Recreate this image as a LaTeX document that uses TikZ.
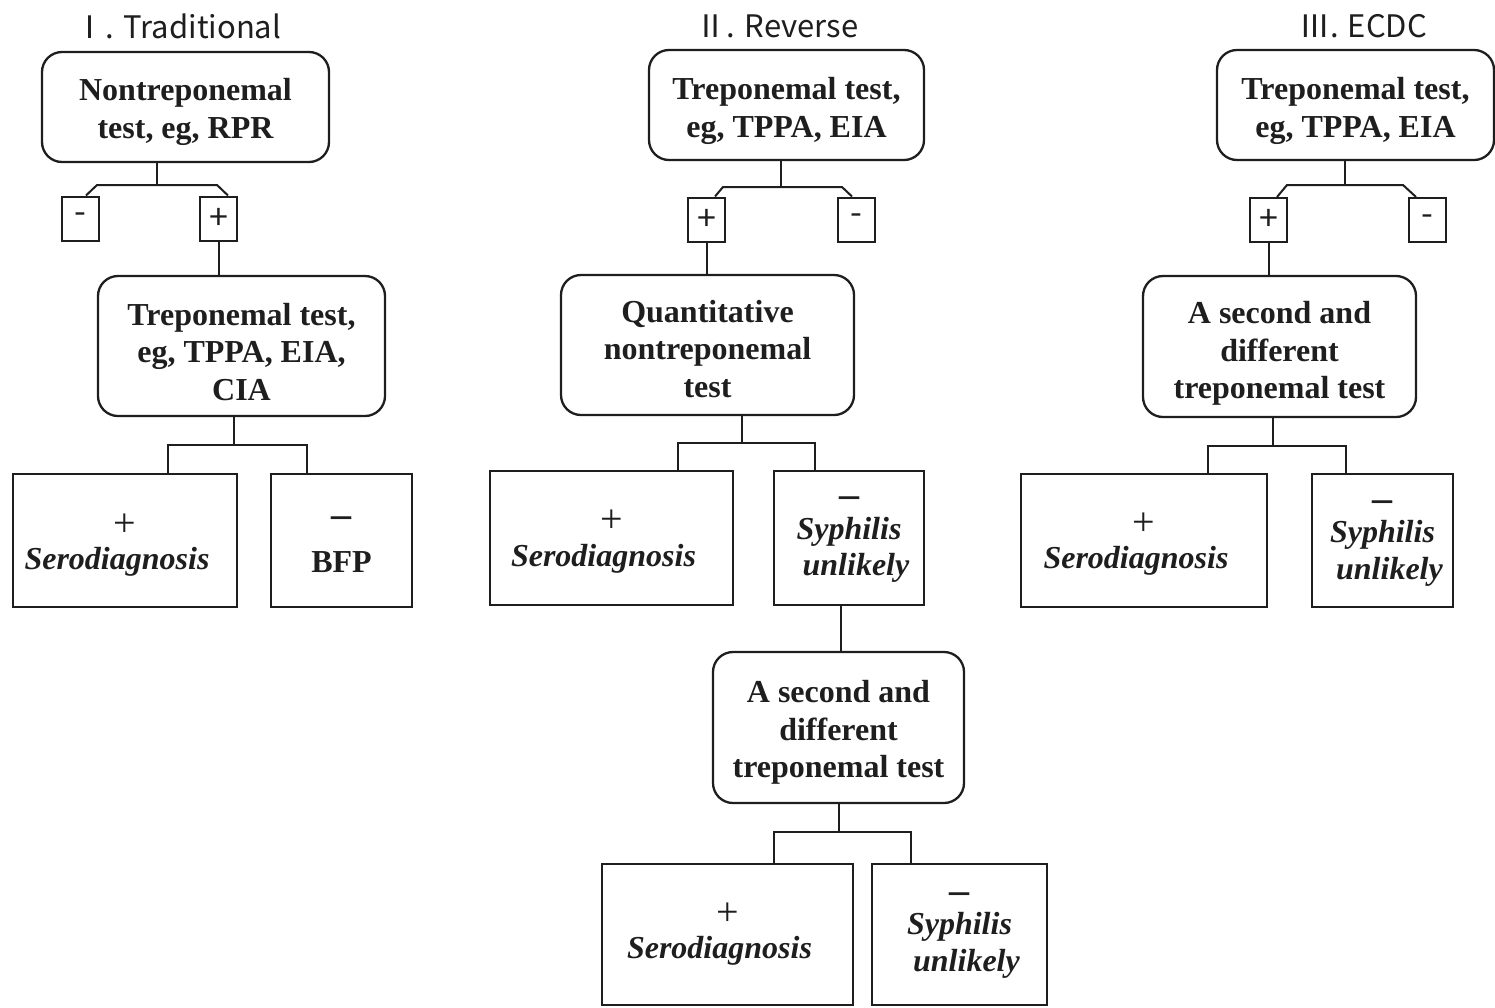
\documentclass[tikz,border=0pt]{standalone}
\usepackage{fontspec}
\setmainfont{Liberation Serif}
\newfontfamily\cjk{Noto Sans CJK SC}
\usetikzlibrary{calc}
\definecolor{ink}{RGB}{30,30,30}
\newcommand{\blk}[2][-5pt]{\raisebox{#1}[\height][\depth]{\begin{tabular}{@{}c@{}}#2\end{tabular}}}
\newcommand{\pl}{{\mdseries\fontsize{40}{37.5}\selectfont +}}
\newcommand{\mn}{{\fontsize{40}{37.5}\selectfont –}}
\newcommand{\sero}{\hspace*{-16pt}\textit{Serodiagnosis}}
\newcommand{\syph}{\textit{Syphilis}\\[-1pt]\hspace*{14pt}\textit{unlikely}}
\begin{document}
\begin{tikzpicture}[x=1pt,y=-1pt,
  txt/.style={text=ink, font=\bfseries\fontsize{32}{37.5}\selectfont, inner sep=0pt},
  rbox/.style={txt, draw=ink, line width=2.3pt, rounded corners=20pt},
  sbox/.style={txt, draw=ink, line width=2.3pt},
  sign/.style={draw=ink, text=ink, line width=2pt, minimum width=37pt, minimum height=44pt, inner sep=0pt, font=\cjk\fontsize{34}{34}\selectfont},
  conn/.style={draw=ink, line width=2pt},
  ttl/.style={text=ink, font=\cjk\fontsize{31}{34}\selectfont, inner sep=0pt}
]
\useasboundingbox (0,0) rectangle (1495,1007);

% ---------- Column I ----------
\node[ttl] (ta) at (178,26) {Ⅰ. Traditional};
\node[rbox, minimum width=287pt, minimum height=110pt] (a1) at (185.5,107) {\blk{Nontreponemal\\test, eg, RPR}};
\node[sign] (am) at (80.5,218.5) {-};
\node[sign] (ap) at (218.5,218.5) {+};
\node[rbox, minimum width=287pt, minimum height=140pt] (a2) at (241.5,346) {\blk[-9pt]{Treponemal test,\\eg, TPPA, EIA,\\CIA}};
\node[sbox, minimum width=224pt, minimum height=133pt] (a3) at (125,540.5) {\blk{\pl\\[-4pt]\sero}};
\node[sbox, minimum width=141pt, minimum height=133pt] (a4) at (341.5,540.5) {\blk[-2pt]{\mn\\[8pt]BFP}};

\coordinate (aj) at (157,185);
\coordinate (al) at (97,185);
\coordinate (ar) at (217,185);
\draw[conn, line width=1.5pt] (a1.south -| aj) -- (aj);
\draw[conn] ($(am.north)+(5.5,0)$) -- (al) -- (ar) -- ($(ap.north)+(9.5,0)$);
\draw[conn] (ap.south) -- (ap.south |- a2.north);
\coordinate (ab) at (234,445);
\coordinate (abl) at (168,445);
\coordinate (abr) at (307,445);
\draw[conn, line width=1.5pt] (a2.south -| ab) -- (ab);
\draw[conn] (a3.north -| abl) -- (abl) -- (abr) -- (a4.north -| abr);

% ---------- Column II ----------
\node[ttl] (tb) at (777,26) {Ⅱ. Reverse};
\node[rbox, minimum width=275pt, minimum height=110pt] (b1) at (786.5,105) {\blk[-6pt]{Treponemal test,\\eg, TPPA, EIA}};
\node[sign] (bp) at (706.5,219.5) {+};
\node[sign] (bm) at (856.5,219.5) {-};
\node[rbox, minimum width=293pt, minimum height=140pt] (b2) at (707.5,345) {\blk[-7pt]{Quantitative\\nontreponemal\\test}};
\node[sbox, minimum width=243pt, minimum height=134pt] (b3) at (611.5,538) {\blk[-4pt]{\pl\\[-4pt]\sero}};
\node[sbox, minimum width=150pt, minimum height=134pt] (b4) at (849,538) {\blk[4pt]{\mn\\[-6pt]\syph}};
\node[rbox, minimum width=251pt, minimum height=151pt] (b5) at (838.5,727.5) {\blk{A second and\\different\\treponemal test}};
\node[sbox, minimum width=251pt, minimum height=141pt] (b6) at (727.5,934.5) {\blk[0pt]{\pl\\[-4pt]\sero}};
\node[sbox, minimum width=175pt, minimum height=141pt] (b7) at (959.5,934.5) {\blk[5pt]{\mn\\[-6pt]\syph}};

\coordinate (bj) at (781,187);
\coordinate (bl) at (723,187);
\coordinate (br) at (842,187);
\draw[conn] (b1.south -| bj) -- (bj);
\draw[conn] ($(bp.north)+(8.5,0)$) -- (bl) -- (br) -- ($(bm.north)+(-4.5,0)$);
\draw[conn] (bp.south) -- (bp.south |- b2.north);
\coordinate (bb) at (742,443);
\coordinate (bbl) at (678,443);
\coordinate (bbr) at (815,443);
\draw[conn] (b2.south -| bb) -- (bb);
\draw[conn] (b3.north -| bbl) -- (bbl) -- (bbr) -- (b4.north -| bbr);
\coordinate (bd) at (841,620);
\draw[conn] (b4.south -| bd) -- (b5.north -| bd);
\coordinate (bc) at (839,832);
\coordinate (bcl) at (774,832);
\coordinate (bcr) at (911,832);
\draw[conn] (b5.south -| bc) -- (bc);
\draw[conn] (b6.north -| bcl) -- (bcl) -- (bcr) -- (b7.north -| bcr);

% ---------- Column III ----------
\node[ttl] (tc) at (1363,26) {Ⅲ. ECDC};
\node[rbox, minimum width=277pt, minimum height=110pt] (c1) at (1355.5,105) {\blk[-6pt]{Treponemal test,\\eg, TPPA, EIA}};
\node[sign] (cp) at (1268.5,220) {+};
\node[sign] (cm) at (1427,220) {-};
\node[rbox, minimum width=273pt, minimum height=141pt] (c2) at (1279.5,346.5) {\blk[-7pt]{A second and\\different\\treponemal test}};
\node[sbox, minimum width=246pt, minimum height=133pt] (c3) at (1144,540.5) {\blk[-4pt]{\pl\\[-4pt]\sero}};
\node[sbox, minimum width=141pt, minimum height=133pt] (c4) at (1382.5,540.5) {\blk[3pt]{\mn\\[-6pt]\syph}};

\coordinate (cj) at (1345,185);
\coordinate (cl) at (1287,185);
\coordinate (cr) at (1403,185);
\draw[conn] (c1.south -| cj) -- (cj);
\draw[conn] ($(cp.north)+(8.5,0)$) -- (cl) -- (cr) -- ($(cm.north)+(-11,0)$);
\draw[conn] (cp.south) -- (cp.south |- c2.north);
\coordinate (cb) at (1273,446);
\coordinate (cbl) at (1208,446);
\coordinate (cbr) at (1346,446);
\draw[conn] (c2.south -| cb) -- (cb);
\draw[conn] (c3.north -| cbl) -- (cbl) -- (cbr) -- (c4.north -| cbr);
\end{tikzpicture}
\end{document}
